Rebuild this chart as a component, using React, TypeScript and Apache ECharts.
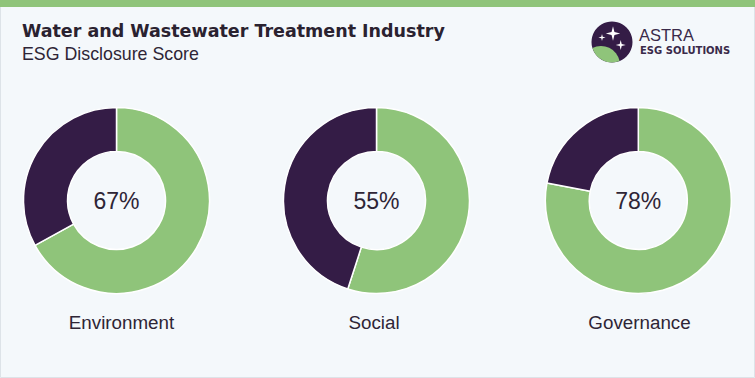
import React, { useEffect, useRef } from "react";
import * as echarts from "echarts";

const title = "Water and Wastewater Treatment Industry";
const subtitle = "ESG Disclosure Score";
const categories = ["Environment", "Social", "Governance"];
const scores = [67, 55, 78];

// layout constants
const centersX = [116.5, 376.5, 638.3];
const labelX = [121.5, 374, 639.5];

const GREEN = "#8fc47a";
const PURPLE = "#341c46";
const BG = "#f4f8fb";
const TEXT = "#2e2536";

function star(cx: number, cy: number, R: number) {
  const r = R * 0.2;
  return {
    type: "polygon",
    shape: {
      points: [
        [cx, cy - R],
        [cx + r, cy - r],
        [cx + R, cy],
        [cx + r, cy + r],
        [cx, cy + R],
        [cx - r, cy + r],
        [cx - R, cy],
        [cx - r, cy - r],
      ],
    },
    style: { fill: "#ffffff" },
    silent: true,
  };
}

export default function App() {
  const ref = useRef<HTMLDivElement>(null);
  useEffect(() => {
    if (!ref.current) return;
    let ok = true;
    try {
      const d =
        "M -19.58 6.05 A 19 19 0 0 1 7.58 19.05 A 20.5 20.5 0 0 1 -19.58 6.05 Z";
      echarts.graphic.registerShape("logoGreen", echarts.graphic.extendPath(d, {}) as any);
    } catch (e) {
      ok = false;
    }
    const chart = echarts.init(ref.current, undefined, { renderer: "svg" });

    const series: any[] = scores.map((s, i) => ({
      type: "pie",
      center: [centersX[i], 200.5],
      radius: [49, 93],
      startAngle: 90,
      clockwise: true,
      silent: true,
      avoidLabelOverlap: false,
      emphasis: { disabled: true },
      itemStyle: { borderColor: "#ffffff", borderWidth: 1.5 },
      labelLine: { show: false },
      data: [
        {
          value: s,
          name: categories[i],
          itemStyle: { color: GREEN },
          label: {
            show: true,
            position: "center",
            formatter: s + "%",
            fontFamily: "Liberation Sans",
            fontSize: 23,
            color: TEXT,
          },
        },
        {
          value: 100 - s,
          name: categories[i] + " gap",
          itemStyle: { color: PURPLE },
          label: { show: false },
        },
      ],
    }));

    const graphic: any[] = [
      {
        type: "rect",
        shape: { x: 0.5, y: 0.5, width: 754, height: 377 },
        style: { fill: BG, stroke: "#dde3e8", lineWidth: 1 },
        z: -10,
        silent: true,
      },
      {
        type: "rect",
        shape: { x: 0, y: 0, width: 755, height: 7 },
        style: { fill: GREEN },
        silent: true,
      },
      {
        type: "text",
        x: 22,
        y: 30.8,
        style: {
          text: title,
          fontFamily: "DejaVu Sans",
          fontWeight: "bold",
          fontSize: 17.5,
          fill: "#2a2230",
          verticalAlign: "middle",
          align: "left",
        },
      },
      {
        type: "text",
        x: 22,
        y: 54,
        style: {
          text: subtitle,
          fontFamily: "Liberation Sans",
          fontSize: 17.8,
          fill: TEXT,
          verticalAlign: "middle",
          align: "left",
        },
      },
      {
        type: "circle",
        shape: { cx: 612, cy: 42, r: 20.5 },
        style: { fill: PURPLE },
        silent: true,
      },
      star(613, 33.5, 7.2),
      star(602, 37.5, 3.6),
      star(620.7, 45, 5),
      {
        type: "text",
        x: 639,
        y: 34.6,
        style: {
          text: "ASTRA",
          fontFamily: "Liberation Sans",
          fontSize: 16.5,
          fill: "#3a2a4a",
          verticalAlign: "middle",
          align: "left",
        },
      },
      {
        type: "text",
        x: 640,
        y: 50.2,
        style: {
          text: "ESG SOLUTIONS",
          fontFamily: "DejaVu Sans",
          fontWeight: "bold",
          fontSize: 10,
          fill: "#3a2a4a",
          verticalAlign: "middle",
          align: "left",
        },
      },
      ...categories.map((c, i) => ({
        type: "text",
        x: labelX[i],
        y: 322.5,
        style: {
          text: c,
          fontFamily: "Liberation Sans",
          fontSize: 18.8,
          fill: TEXT,
          verticalAlign: "middle",
          align: "center",
        },
      })),
    ];
    if (ok) {
      graphic.splice(5, 0, {
        type: "logoGreen",
        x: 612,
        y: 42,
        style: { fill: GREEN },
        silent: true,
      });
    }

    chart.setOption({
      animation: false,
      backgroundColor: BG,
      graphic,
      series,
    });
    return () => chart.dispose();
  }, []);
  return (
    <div
      ref={ref}
      style={{ position: "fixed", left: 0, top: 0, width: 755, height: 378 }}
    />
  );
}
